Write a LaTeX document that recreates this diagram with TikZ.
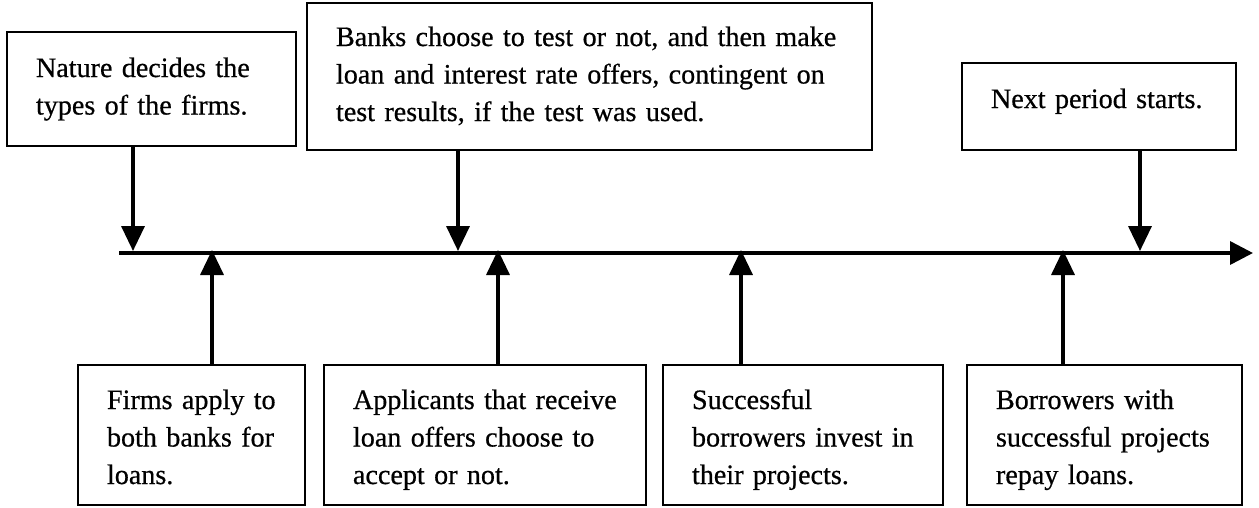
\documentclass[tikz,border=0pt]{standalone}
\usepackage{fontspec}
\setmainfont[FakeBold=0.6]{Liberation Serif}
\usetikzlibrary{arrows.meta}
\begin{document}
\begin{tikzpicture}[x=1pt,y=-1pt,
  box/.style={draw, line width=2.8pt, rectangle, align=left, inner xsep=29pt, inner ysep=0pt,
    font=\fontsize{28.1}{37.5}\selectfont, text height=20pt},
  evt/.style={line width=3.5pt, -{Triangle[length=25pt,width=23pt]}},
  axis/.style={line width=3.5pt, -{Triangle[length=23pt,width=23pt]}}]
\useasboundingbox (0,0) rectangle (1259,507);

% upper boxes
\node[box, minimum width=289pt, minimum height=114pt, text width=231pt, text depth=44pt] (n1) at (151.5,89)
  {\mbox{Nature decides the}\\\mbox{types of the firms.}};
\node[box, minimum width=565pt, minimum height=147pt, text width=507pt, text depth=81pt] (n2) at (589.5,76.5)
  {\mbox{Banks choose to test or not, and then make}\\\mbox{loan and interest rate offers, contingent on}\\\mbox{test results, if the test was used.}};
\node[box, minimum width=274pt, minimum height=87pt, text width=216pt, text depth=17pt] (n3) at (1099,106.5)
  {\mbox{Next period starts.}};

% lower boxes
\node[box, minimum width=227pt, minimum height=140pt, text width=169pt, text depth=72pt] (n4) at (191.5,435)
  {\mbox{Firms apply to}\\\mbox{both banks for}\\\mbox{loans.}};
\node[box, minimum width=322pt, minimum height=140pt, text width=264pt, text depth=72pt] (n5) at (485,435)
  {\mbox{Applicants that receive}\\\mbox{loan offers choose to}\\\mbox{accept or not.}};
\node[box, minimum width=280pt, minimum height=140pt, text width=222pt, text depth=72pt] (n6) at (803,435)
  {\mbox{Successful}\\\mbox{borrowers invest in}\\\mbox{their projects.}};
\node[box, minimum width=275pt, minimum height=140pt, text width=217pt, text depth=72pt] (n7) at (1104.5,435)
  {\mbox{Borrowers with}\\\mbox{successful projects}\\\mbox{repay loans.}};

% timeline
\coordinate (a0) at (119,253);
\coordinate (a1) at (1253,253);
\draw[axis] (a0) -- (a1);

% event points on the timeline
\coordinate (p1) at (133,251);
\coordinate (p2) at (458,251);
\coordinate (p3) at (1140,251);
\coordinate (q1) at (212,250);
\coordinate (q2) at (498,250);
\coordinate (q3) at (741,250);
\coordinate (q4) at (1063,250);

\draw[evt] (n1.south -| p1) -- (p1);
\draw[evt] (n2.south -| p2) -- (p2);
\draw[evt] (n3.south -| p3) -- (p3);
\draw[evt] (n4.north -| q1) -- (q1);
\draw[evt] (n5.north -| q2) -- (q2);
\draw[evt] (n6.north -| q3) -- (q3);
\draw[evt] (n7.north -| q4) -- (q4);
\end{tikzpicture}
\end{document}
